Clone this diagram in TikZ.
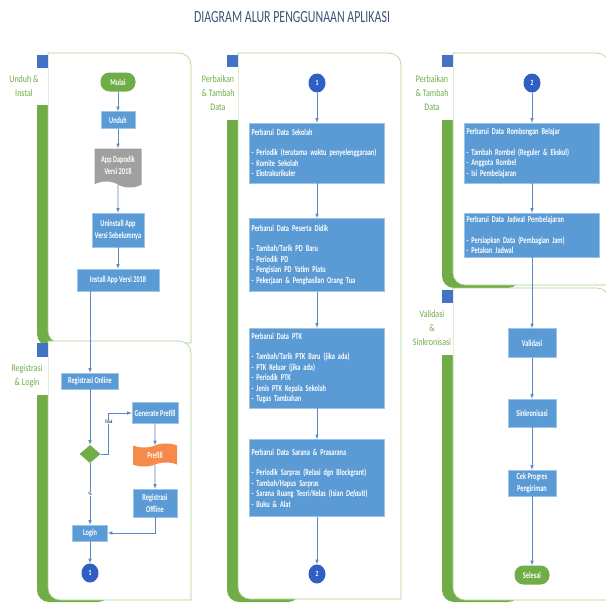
\documentclass[tikz,border=0pt]{standalone}
\usepackage{fontspec}
\setmainfont{Carlito}[FakeStretch=0.8]
\newfontfamily\titlefont{Carlito}[FakeStretch=0.7]
\newfontfamily\boxfont{Carlito}[FakeStretch=0.7]
\usepackage{tikz}
\usetikzlibrary{arrows,shapes.geometric,shapes.symbols}

\definecolor{lanegreen}{HTML}{70AD47}
\definecolor{laneline}{HTML}{A9D18E}
\definecolor{squareblue}{HTML}{4472C4}
\definecolor{boxblue}{HTML}{5B9BD5}
\definecolor{boxedge}{HTML}{9DC3E6}
\definecolor{circblue}{HTML}{2F5FC2}
\definecolor{docgray}{HTML}{A0A0A0}
\definecolor{prefillorange}{HTML}{F58A4B}
\definecolor{arrowblue}{HTML}{5A8AC6}
\definecolor{titleblue}{HTML}{3B5575}

\begin{document}
\begin{tikzpicture}[x=1pt, y=-1pt,
    lane/.style={draw=laneline, fill=white, line width=0.6pt},
    laneback/.style={fill=lanegreen, rounded corners=12pt},
    lanelbl/.style={text=lanegreen, align=center, inner sep=0pt, font=\fontsize{10}{14}\selectfont},
    box/.style={rectangle, fill=boxblue, draw=boxedge, line width=0.4pt, text=white,
      align=center, inner sep=1pt, font=\boxfont\bfseries\fontsize{9}{12}\selectfont},
    listbox/.style={box, text width=131pt, align=left, inner sep=2pt,
      font=\boxfont\bfseries\fontsize{9}{10.5}\selectfont},
    pill/.style={rectangle, rounded corners=9pt, fill=lanegreen, text=white, minimum width=35pt,
      minimum height=19pt, inner sep=1pt, font=\boxfont\bfseries\fontsize{9}{10}\selectfont},
    connector/.style={ellipse, fill=circblue, text=white, minimum width=17pt, minimum height=19pt,
      inner sep=0pt, font=\boxfont\bfseries\fontsize{8}{8}\selectfont},
    doc/.style={tape, tape bend top=none, tape bend bottom=out and in, tape bend height=6pt,
      fill=docgray, text=white, minimum width=47pt, minimum height=39pt, inner sep=1pt,
      align=center, font=\boxfont\bfseries\fontsize{9}{12}\selectfont},
    punch/.style={tape, tape bend height=4pt, fill=prefillorange, text=white, minimum width=44pt,
      minimum height=23pt, inner sep=1pt, font=\boxfont\bfseries\fontsize{9}{10}\selectfont},
    choice/.style={diamond, fill=lanegreen, minimum width=21pt, minimum height=18pt, aspect=1.2,
      inner sep=0pt},
    arr/.style={draw=arrowblue, line width=0.6pt, -latex},
    lbl/.style={fill=white, inner sep=0.5pt, font=\boxfont\fontsize{5}{5}\selectfont}]

    \clip (0,0) rectangle (606,605);

    % lanes
    \fill[laneback] (37,90) rectangle (110,346);
    \draw[lane] (48,53) [rounded corners=12pt] -- (191,53) [sharp corners] -- (191,343) [rounded corners=12pt] -- (48,343) [sharp corners] -- cycle;
    \fill[squareblue] (37,55) rectangle (48,68);
    \fill[white] (4,68) rectangle (47.7,105);

    \fill[laneback] (37,380) rectangle (110,602);
    \draw[lane] (48,341) [rounded corners=12pt] -- (191,341) [sharp corners] -- (191,600) [rounded corners=12pt] -- (48,600) [sharp corners] -- cycle;
    \fill[squareblue] (37,343) rectangle (48,357);
    \fill[white] (4,357) rectangle (47.7,395);

    \fill[laneback] (227,100) rectangle (300,602);
    \draw[lane] (238,53) [rounded corners=12pt] -- (401,53) [sharp corners] -- (401,599) [rounded corners=12pt] -- (238,599) [sharp corners] -- cycle;
    \fill[squareblue] (227,55) rectangle (238,67);
    \fill[white] (194,67) rectangle (237.7,120);

    \fill[laneback] (442,100) rectangle (520,288);
    \draw[lane] (453,53) [rounded corners=12pt] -- (609,53) [sharp corners] -- (609,285) [rounded corners=12pt] -- (453,285) [sharp corners] -- cycle;
    \fill[squareblue] (442,55) rectangle (453,67);
    \fill[white] (409,67) rectangle (452.7,120);

    \fill[laneback] (442,330) rectangle (520,602);
    \draw[lane] (453,288) [rounded corners=12pt] -- (609,288) [sharp corners] -- (609,600) [rounded corners=12pt] -- (453,600) [sharp corners] -- cycle;
    \fill[squareblue] (442,290) rectangle (453,303);
    \fill[white] (409,303) rectangle (452.7,355);

    \node[text=titleblue, font=\titlefont\fontsize{17}{17}\selectfont] (title) at (292,17) {DIAGRAM ALUR PENGGUNAAN APLIKASI};

    \node[lanelbl] (lblunduh) at (24,86) {Unduh \&\\Instal};
    \node[lanelbl] (lblreg) at (27,376) {Registrasi\\\& Login};
    \node[lanelbl] (lblperbA) at (218,93) {Perbaikan\\\& Tambah\\Data};
    \node[lanelbl] (lblperbB) at (432,93) {Perbaikan\\\& Tambah\\Data};
    \node[lanelbl] (lblvalid) at (432,328) {Validasi\\\&\\Sinkronisasi};

    % unduh & instal
    \node[pill] (mulai) at (118,82) {Mulai};
    \node[box, minimum width=34pt, minimum height=17pt] (unduh) at (118,120) {Unduh};
    \node[doc] (app) at (118,165) {App Dapodik\\Versi 2018};
    \node[box, minimum width=52pt, minimum height=34pt] (uninstall) at (118,230) {Uninstall App\\Versi Sebelumnya};
    \node[box, minimum width=82pt, minimum height=22pt] (install) at (118,280) {Install App Versi 2018};

    % registrasi & login
    \node[box, minimum width=57pt, minimum height=16pt] (regonline) at (90,381) {Registrasi Online};
    \node[box, minimum width=46pt, minimum height=21pt] (genprefill) at (155,413) {Generate Prefill};
    \node[choice] (pilih) at (90,454) {};
    \node[punch] (prefill) at (155,455) {Prefill};
    \node[box, minimum width=44pt, minimum height=28pt] (regoffline) at (155,503) {Registrasi\\Offline};
    \node[box, minimum width=35pt, minimum height=16pt] (login) at (90,533) {Login};
    \node[connector] (satuA) at (90,573) {1};

    % perbaikan & tambah data
    \node[connector] (satuB) at (317,83) {1};
    \node[listbox, minimum height=60pt] (sekolah) at (317,153) {Perbarui Data Sekolah\\[10pt]
      - Periodik (terutama waktu penyelenggaraan)\\- Komite Sekolah\\- Ekstrakurikuler};
    \node[listbox, minimum height=73pt] (pd) at (317,255) {Perbarui Data Peserta Didik\\[10pt]
      - Tambah/Tarik PD Baru\\- Periodik PD\\- Pengisian PD Yatim Piatu\\- Pekerjaan \& Penghasilan Orang Tua};
    \node[listbox, minimum height=80pt] (ptk) at (317,368) {Perbarui Data PTK\\[10pt]
      - Tambah/Tarik PTK Baru (jika ada)\\- PTK Keluar (jika ada)\\- Periodik PTK\\- Jenis PTK Kepala Sekolah\\- Tugas Tambahan};
    \node[listbox, minimum height=77pt] (sarpras) at (317,478) {Perbarui Data Sarana \& Prasarana\\[10pt]
      - Periodik Sarpras (Relasi dgn Blockgrant)\\- Tambah/Hapus Sarpras\\- Sarana Ruang Teori/Kelas (Isian \textit{Default})\\- Buku \& Alat};
    \node[connector] (duaA) at (317,574) {2};

    \node[connector] (duaB) at (532,83) {2};
    \node[listbox, minimum height=60pt] (rombel) at (532,153) {Perbarui Data Rombongan Belajar\\[10pt]
      - Tambah Rombel (Reguler \& Ekskul)\\- Anggota Rombel\\- Isi Pembelajaran};
    \node[listbox, minimum height=44pt] (jadwal) at (532,235) {Perbarui Data Jadwal Pembelajaran\\[10pt]
      - Persiapkan Data (Pembagian Jam)\\- Petakan Jadwal};

    % validasi & sinkronisasi
    \node[box, minimum width=48pt, minimum height=29pt] (validasi) at (532,343) {Validasi};
    \node[box, minimum width=48pt, minimum height=28pt] (sinkron) at (532,413) {Sinkronisasi};
    \node[box, minimum width=48pt, minimum height=26pt] (cekprogres) at (532,483) {Cek Progres\\Pengiriman};
    \node[pill] (selesai) at (532,575) {Selesai};

    % connectors
    \draw[arr] (mulai) -- (unduh);
    \draw[arr] (unduh) -- (app);
    \draw[arr] (app) -- (uninstall);
    \draw[arr] (uninstall) -- (install);
    \draw[arr] (install.south -| regonline) -- (regonline);
    \draw[arr] (regonline) -- (pilih);
    \draw[arr] (pilih.east) -- ++(8,0) |- (genprefill.west) node[pos=0.39, lbl] {Tidak};
    \draw[arr] (genprefill) -- (prefill);
    \draw[arr] (prefill) -- (regoffline);
    \draw[arr] (regoffline.south) |- (login.east);
    \draw[arr] (pilih.south) -- (login.north) node[midway, lbl] {Ya};
    \draw[arr] (login) -- (satuA);

    \draw[arr] (satuB) -- (sekolah);
    \draw[arr] (sekolah) -- (pd);
    \draw[arr] (pd) -- (ptk);
    \draw[arr] (ptk) -- (sarpras);
    \draw[arr] (sarpras) -- (duaA);

    \draw[arr] (duaB) -- (rombel);
    \draw[arr] (rombel) -- (jadwal);
    \draw[arr] (jadwal) -- (validasi);
    \draw[arr] (validasi) -- (sinkron);
    \draw[arr] (sinkron) -- (cekprogres);
    \draw[arr] (cekprogres) -- (selesai);
  \end{tikzpicture}
\end{document}
